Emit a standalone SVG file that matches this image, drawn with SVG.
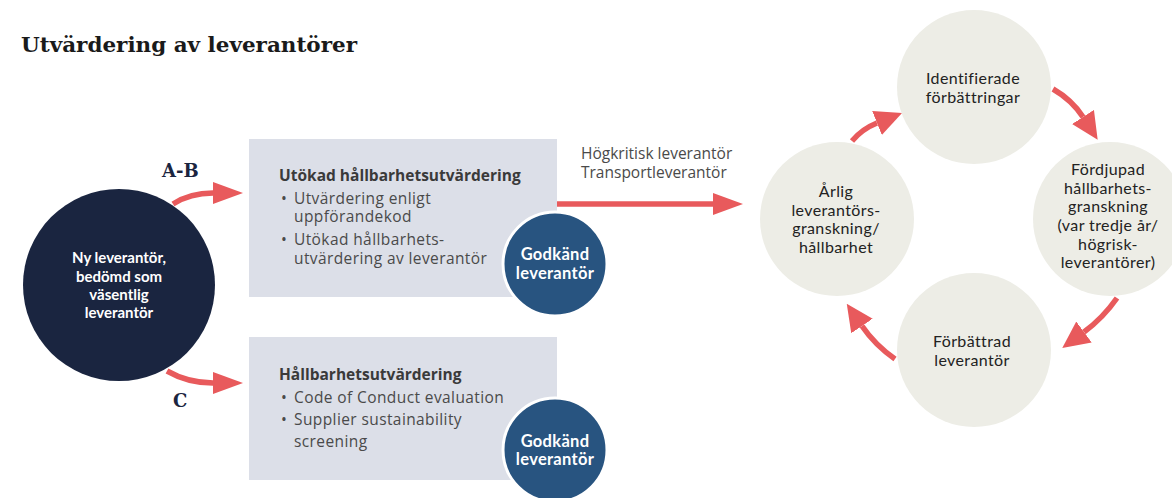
<svg xmlns="http://www.w3.org/2000/svg" width="1172" height="498" viewBox="0 0 1172 498">
<style>
.title{font-family:"DejaVu Serif","Liberation Serif",serif;font-weight:bold;fill:#1a1a1a}
.lbl{font-family:"DejaVu Serif","Liberation Serif",serif;font-weight:bold;fill:#1b2540;font-size:18px}
.wt{font-family:Lato,"Open Sans",sans-serif;font-weight:bold;fill:#ffffff;font-size:15px;text-anchor:middle}
.wg{font-family:Lato,"Open Sans",sans-serif;font-weight:bold;fill:#ffffff;font-size:16.5px;text-anchor:middle;letter-spacing:0.3px}
.bh{font-family:"Open Sans",Lato,sans-serif;font-weight:bold;fill:#3a3a3a;font-size:15.5px}
.bt{font-family:"Open Sans",Lato,sans-serif;fill:#4a4a4a;font-size:15.5px;letter-spacing:0.4px}
.hk{font-family:"Open Sans",Lato,sans-serif;fill:#4a4a4a;font-size:15.5px}
.ct{font-family:Lato,"Open Sans",sans-serif;fill:#222222;font-size:16px;text-anchor:middle;letter-spacing:0.4px}
.box{fill:#dcdfe8}
.ok{fill:#285480;stroke:#ffffff;stroke-width:3}
.cyc{fill:#ededE6}
.arr{fill:none;stroke:#e85a5c;stroke-width:5.5}
</style>
<defs>
<marker id="ah" markerUnits="userSpaceOnUse" markerWidth="30" markerHeight="24" viewBox="0 0 30 24" refX="0" refY="12" orient="auto">
<path d="M0,1 L30,12 L0,23 z" fill="#e85a5c"/>
</marker>
<marker id="ah2" markerUnits="userSpaceOnUse" markerWidth="27" markerHeight="28" viewBox="0 0 27 28" refX="0" refY="14" orient="auto">
<path d="M0,1 L27,14 L0,27 z" fill="#e85a5c"/>
</marker>
</defs>

<text class="title" x="21" y="52" font-size="21" textLength="336" lengthAdjust="spacingAndGlyphs">Utvärdering av leverantörer</text>

<g id="connectors">
<path class="arr" d="M173,204 Q190,193 213,193" marker-end="url(#ah)"/>
<path class="arr" d="M167,371 Q188,383 213,383" marker-end="url(#ah)"/>
<path class="arr" d="M557,204 L713,204" marker-end="url(#ah)"/>
<path class="arr" d="M852,141 Q862,129 877,123" marker-end="url(#ah2)"/>
<path class="arr" d="M1053,89 Q1072,100 1083,117" marker-end="url(#ah2)"/>
<path class="arr" d="M1117,298 Q1103,318 1084,332" marker-end="url(#ah2)"/>
<path class="arr" d="M895,359 Q875,345 862,326" marker-end="url(#ah2)"/>
<text class="lbl" x="162" y="177">A-B</text>
<text class="lbl" x="173" y="407">C</text>
<text class="hk" x="581" y="159">Högkritisk leverantör</text>
<text class="hk" x="581" y="178">Transportleverantör</text>
</g>

<g id="ny-leverantor">
<circle cx="119" cy="285" r="96" fill="#1a2540"/>
<text class="wt" x="119" y="263">Ny leverantör,</text>
<text class="wt" x="119" y="282">bedömd som</text>
<text class="wt" x="119" y="300">väsentlig</text>
<text class="wt" x="119" y="318">leverantör</text>
</g>

<g id="utokad">
<rect class="box" x="249" y="139" width="308" height="158"/>
<text class="bh" x="279" y="181">Utökad hållbarhetsutvärdering</text>
<text class="bt" x="281" y="204">•</text>
<text class="bt" x="294" y="204">Utvärdering enligt</text>
<text class="bt" x="294" y="222">uppförandekod</text>
<text class="bt" x="281" y="245">•</text>
<text class="bt" x="294" y="245">Utökad hållbarhets-</text>
<text class="bt" x="294" y="264">utvärdering av leverantör</text>
</g>

<g id="godkand-1">
<circle class="ok" cx="555" cy="264" r="52"/>
<text class="wg" x="555" y="260">Godkänd</text>
<text class="wg" x="555" y="279">leverantör</text>
</g>

<g id="hallbarhet">
<rect class="box" x="249" y="337" width="308" height="143"/>
<text class="bh" x="279" y="380">Hållbarhetsutvärdering</text>
<text class="bt" x="281" y="403">•</text>
<text class="bt" x="294" y="403">Code of Conduct evaluation</text>
<text class="bt" x="281" y="425">•</text>
<text class="bt" x="294" y="425">Supplier sustainability</text>
<text class="bt" x="294" y="447">screening</text>
</g>

<g id="godkand-2">
<circle class="ok" cx="555" cy="450" r="52"/>
<text class="wg" x="555" y="447">Godkänd</text>
<text class="wg" x="555" y="465">leverantör</text>
</g>

<g id="identifierade">
<circle class="cyc" cx="974" cy="87" r="77"/>
<text class="ct" x="973" y="84">Identifierade</text>
<text class="ct" x="973" y="103">förbättringar</text>
</g>

<g id="fordjupad">
<circle class="cyc" cx="1110" cy="219" r="77"/>
<text class="ct" x="1108" y="175">Fördjupad</text>
<text class="ct" x="1108" y="194">hållbarhets-</text>
<text class="ct" x="1108" y="212">granskning</text>
<text class="ct" x="1108" y="231">(var tredje år/</text>
<text class="ct" x="1108" y="250">högrisk-</text>
<text class="ct" x="1108" y="268">leverantörer)</text>
</g>

<g id="forbattrad">
<circle class="cyc" cx="974" cy="350" r="77"/>
<text class="ct" x="972" y="347">Förbättrad</text>
<text class="ct" x="972" y="366">leverantör</text>
</g>

<g id="arlig">
<circle class="cyc" cx="837" cy="219" r="77"/>
<text class="ct" x="836" y="197">Årlig</text>
<text class="ct" x="836" y="216">leverantörs-</text>
<text class="ct" x="836" y="234">granskning/</text>
<text class="ct" x="836" y="253">hållbarhet</text>
</g>
</svg>
